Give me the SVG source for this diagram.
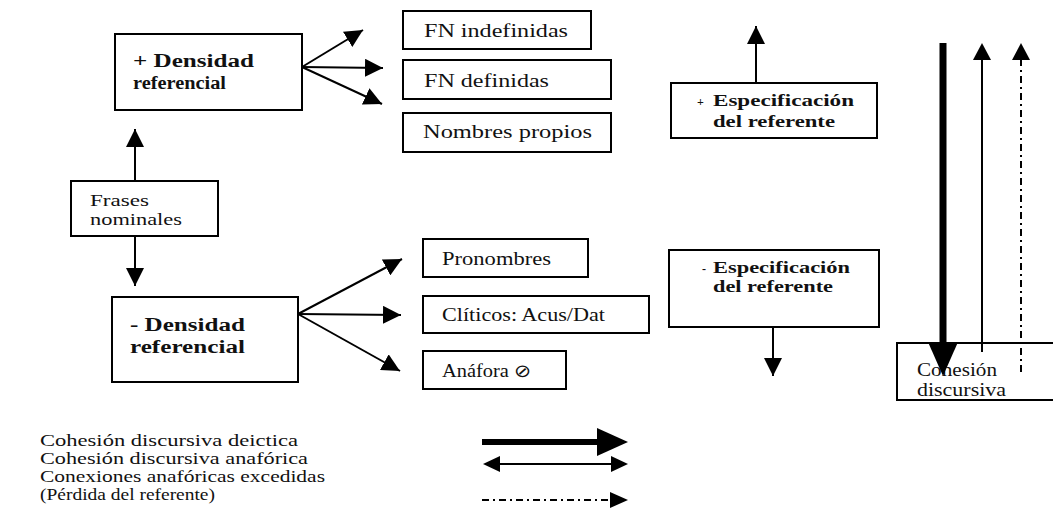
<svg xmlns="http://www.w3.org/2000/svg" width="1053" height="516" viewBox="0 0 1053 516">
<style>
.box{fill:none;stroke:#000;stroke-width:2}
.t{font-family:"Liberation Serif","Times New Roman",serif;font-size:18px;fill:#111}
.f{font-family:"Liberation Serif","Times New Roman",serif;font-size:17px;fill:#111}
.b{font-family:"Liberation Serif","Times New Roman",serif;font-size:18px;font-weight:bold;fill:#111}
.e{font-family:"Liberation Serif","Times New Roman",serif;font-size:17px;font-weight:bold;fill:#111}
.s{font-family:"Liberation Serif","Times New Roman",serif;font-size:12px;font-weight:bold;fill:#111}
.lg{font-family:"Liberation Serif","Times New Roman",serif;font-size:17px;fill:#111}
.ln{stroke:#000;stroke-width:2;fill:none}
.hd{fill:#000}
</style>
<defs>
<marker id="ah" viewBox="0 0 18 18" markerWidth="18" markerHeight="18" refX="18" refY="9" orient="auto" markerUnits="userSpaceOnUse">
<path d="M0,0 L18,9 L0,18 Z" fill="#000"/>
</marker>
</defs>
<rect width="1053" height="516" fill="#fff"/>

<g id="densidad-mas">
<rect class="box" x="115" y="34" width="187" height="76"/>
<text class="b" x="133" y="67" textLength="121" lengthAdjust="spacingAndGlyphs">+ Densidad</text>
<text class="b" x="133" y="89" textLength="93" lengthAdjust="spacingAndGlyphs">referencial</text>
</g>
<g id="frases">
<rect class="box" x="71" y="181" width="147" height="55"/>
<text class="f" x="90" y="206" textLength="59" lengthAdjust="spacingAndGlyphs">Frases</text>
<text class="f" x="90" y="225" textLength="92" lengthAdjust="spacingAndGlyphs">nominales</text>
</g>
<g id="densidad-menos">
<rect class="box" x="112" y="297" width="186" height="85"/>
<text class="b" x="130" y="331" textLength="115" lengthAdjust="spacingAndGlyphs">- Densidad</text>
<text class="b" x="130" y="353" textLength="115" lengthAdjust="spacingAndGlyphs">referencial</text>
</g>
<g id="fn-indef">
<rect class="box" x="403" y="11" width="188" height="38"/>
<text class="t" x="424" y="37" textLength="144" lengthAdjust="spacingAndGlyphs">FN indefinidas</text>
</g>
<g id="fn-def">
<rect class="box" x="403" y="60" width="208" height="39"/>
<text class="t" x="424" y="87" textLength="125" lengthAdjust="spacingAndGlyphs">FN definidas</text>
</g>
<g id="nombres">
<rect class="box" x="403" y="113" width="208" height="39"/>
<text class="t" x="423" y="138" textLength="169" lengthAdjust="spacingAndGlyphs">Nombres propios</text>
</g>
<g id="pronombres">
<rect class="box" x="423" y="239" width="165" height="38"/>
<text class="t" x="442" y="265" textLength="109" lengthAdjust="spacingAndGlyphs">Pronombres</text>
</g>
<g id="cliticos">
<rect class="box" x="423" y="296" width="226" height="37"/>
<text class="t" x="442" y="321" textLength="163" lengthAdjust="spacingAndGlyphs">Clíticos: Acus/Dat</text>
</g>
<g id="anafora">
<rect class="box" x="423" y="351" width="143" height="38"/>
<text class="t" x="442" y="377" textLength="89" lengthAdjust="spacingAndGlyphs">Anáfora ⊘</text>
</g>
<g id="espec-mas">
<rect class="box" x="671" y="83" width="206" height="55"/>
<text class="s" x="697" y="106">+</text>
<text class="e" x="713" y="106" textLength="141" lengthAdjust="spacingAndGlyphs">Especificación</text>
<text class="e" x="713" y="127" textLength="122" lengthAdjust="spacingAndGlyphs">del referente</text>
</g>
<g id="espec-menos">
<rect class="box" x="669" y="250" width="210" height="77"/>
<text class="s" x="702" y="273">-</text>
<text class="e" x="713" y="273" textLength="137" lengthAdjust="spacingAndGlyphs">Especificación</text>
<text class="e" x="713" y="292" textLength="120" lengthAdjust="spacingAndGlyphs">del referente</text>
</g>
<g id="cohesion">
<rect class="box" x="897" y="343" width="170" height="57"/>
<text class="t" x="917" y="376" textLength="80" lengthAdjust="spacingAndGlyphs">Cohesión</text>
<text class="t" x="917" y="396" textLength="89" lengthAdjust="spacingAndGlyphs">discursiva</text>
</g>

<g id="connectors">
<line class="ln" x1="135" y1="181" x2="135" y2="129" marker-end="url(#ah)"/>
<line class="ln" x1="135" y1="236" x2="135" y2="286" marker-end="url(#ah)"/>
<line class="ln" x1="302" y1="67" x2="363" y2="30" marker-end="url(#ah)"/>
<line class="ln" x1="302" y1="67" x2="383" y2="68" marker-end="url(#ah)"/>
<line class="ln" x1="302" y1="67" x2="382" y2="104" marker-end="url(#ah)"/>
<line class="ln" x1="298" y1="314" x2="402" y2="259" marker-end="url(#ah)"/>
<line class="ln" x1="298" y1="314" x2="401" y2="315" marker-end="url(#ah)"/>
<line class="ln" x1="298" y1="314" x2="400" y2="371" marker-end="url(#ah)"/>
<line class="ln" x1="756" y1="83" x2="756" y2="26" marker-end="url(#ah)"/>
<line class="ln" x1="773" y1="327" x2="773" y2="376" marker-end="url(#ah)"/>
<line stroke="#000" stroke-width="7" x1="943" y1="43" x2="943" y2="345"/>
<polygon class="hd" points="928,342 958,342 943,376"/>
<line class="ln" x1="982" y1="352" x2="982" y2="58"/>
<polygon class="hd" points="973,60 991,60 982,43"/>
<line class="ln" x1="1021" y1="372" x2="1021" y2="58" stroke-dasharray="7 4 2 4"/>
<polygon class="hd" points="1012,60 1030,60 1021,43"/>
</g>

<g id="legend">
<text class="lg" x="40" y="446" textLength="258" lengthAdjust="spacingAndGlyphs">Cohesión discursiva deictica</text>
<text class="lg" x="40" y="464" textLength="268" lengthAdjust="spacingAndGlyphs">Cohesión discursiva anafórica</text>
<text class="lg" x="40" y="482" textLength="285" lengthAdjust="spacingAndGlyphs">Conexiones anafóricas excedidas</text>
<text class="lg" x="40" y="500" textLength="175" lengthAdjust="spacingAndGlyphs">(Pérdida del referente)</text>
<line stroke="#000" stroke-width="6" x1="482" y1="442" x2="600" y2="442"/>
<polygon class="hd" points="597,428 628,442 597,456"/>
<line stroke="#000" stroke-width="2" x1="495" y1="464" x2="615" y2="464"/>
<polygon class="hd" points="483,464 500,456 500,472"/>
<polygon class="hd" points="628,464 611,456 611,472"/>
<line stroke="#000" stroke-width="2" x1="482" y1="500" x2="611" y2="500" stroke-dasharray="7 4 2 4"/>
<polygon class="hd" points="610,492 628,500 610,508"/>
</g>
</svg>
